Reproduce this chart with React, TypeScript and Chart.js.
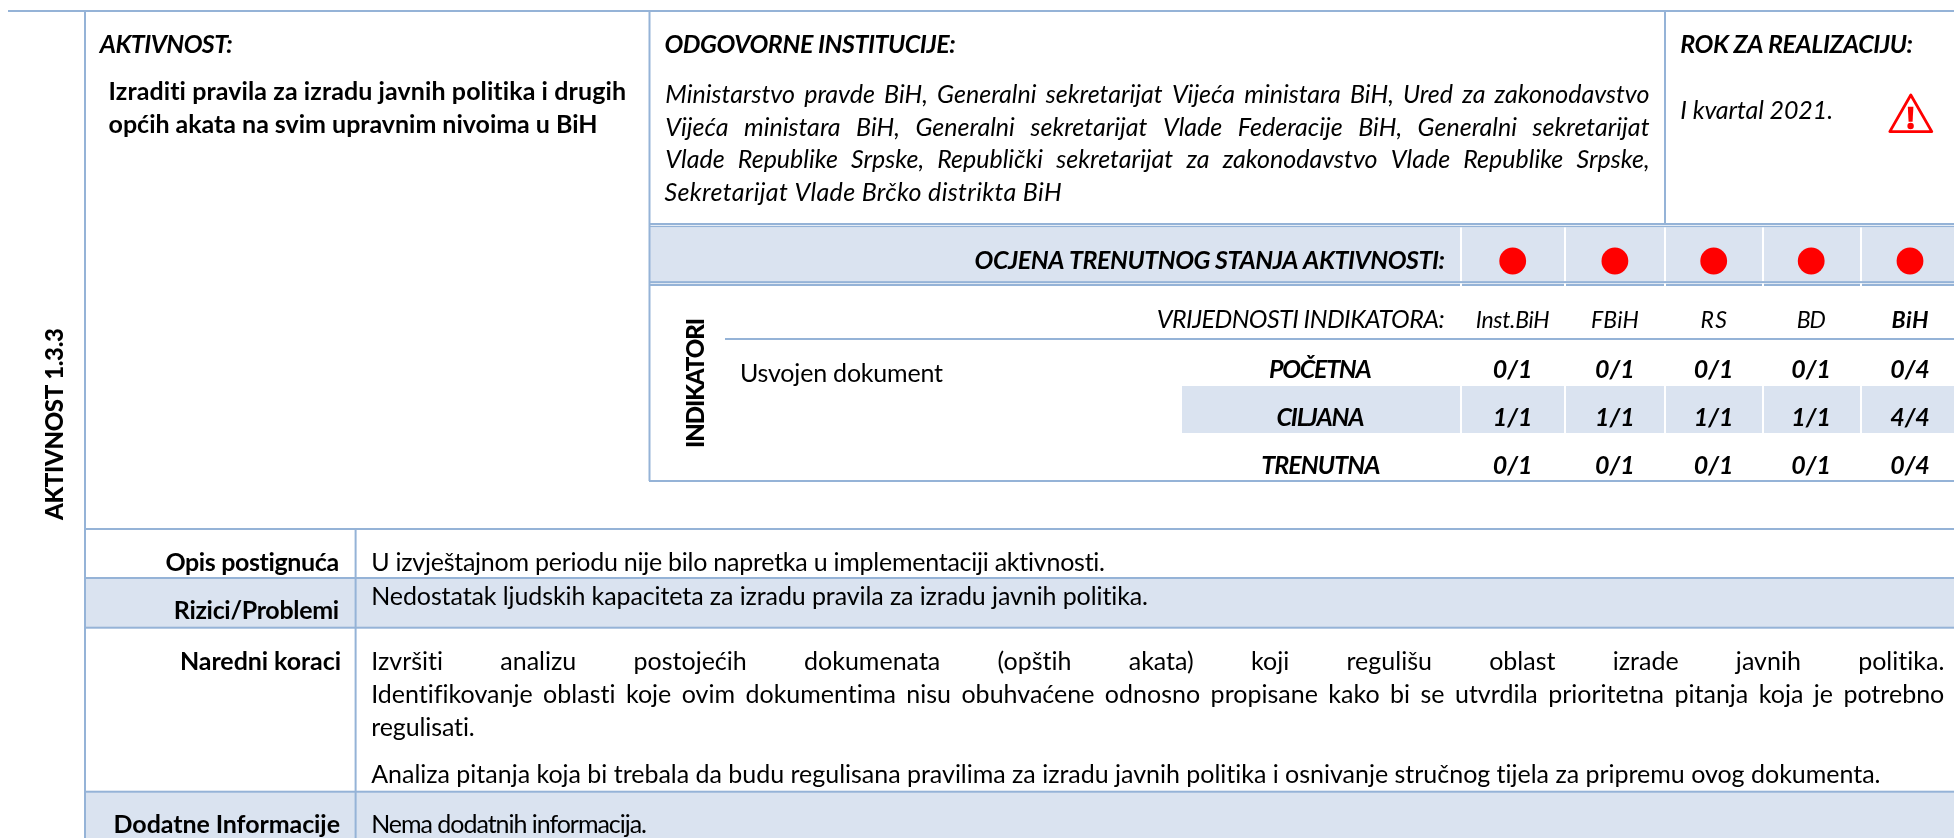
import React, { useEffect, useRef } from "react";
import { Chart, registerables, CategoryScale } from "chart.js";

// ---------- data ----------
const columns = ["Inst.BiH", "FBiH", "RS", "BD", "BiH"];
const statusRow = "OCJENA TRENUTNOG STANJA AKTIVNOSTI:";
const initialValues = ["0/1", "0/1", "0/1", "0/1", "0/4"];
const targetValues = ["1/1", "1/1", "1/1", "1/1", "4/4"];
const currentValues = ["0/1", "0/1", "0/1", "0/1", "0/4"];
const institutions = [
  "Ministarstvo pravde BiH, Generalni sekretarijat Vijeća ministara BiH, Ured za zakonodavstvo",
  "Vijeća ministara BiH, Generalni sekretarijat Vlade Federacije BiH, Generalni sekretarijat",
  "Vlade Republike Srpske, Republički sekretarijat za zakonodavstvo Vlade Republike Srpske,",
  "Sekretarijat Vlade Brčko distrikta BiH",
];
const activity = [
  "Izraditi pravila za izradu javnih politika i drugih",
  "općih akata na svim upravnim nivoima u BiH",
];
const nextSteps = [
  "Izvršiti analizu postojećih dokumenata (opštih akata) koji regulišu oblast izrade javnih politika.",
  "Identifikovanje oblasti koje ovim dokumentima nisu obuhvaćene odnosno propisane kako bi se utvrdila prioritetna pitanja koja je potrebno",
  "regulisati.",
  "Analiza pitanja koja bi trebala da budu regulisana pravilima za izradu javnih politika i osnivanje stručnog tijela za pripremu ovog dokumenta.",
];

// ---------- layout ----------
const W = 1954;
const H = 838;
const LINE = "#95B3D7";
const BAND = "#DAE3F0";
const columnCentres = [1512.7, 1614.9, 1713.7, 1811.2, 1910];
const headerWidths = [74, 48, 26.4, 29, 37];
const separators = [1461, 1565, 1665, 1763, 1861];
const F = "Lato";
const SIZE = 25;

class ColumnScale extends CategoryScale {
  static id = "column";
  static defaults = CategoryScale.defaults;
  getPixelForValue(value: any) {
    const i = typeof value === "number" ? value : (this as any).parse(value);
    return columnCentres[i];
  }
}

Chart.register(...registerables, ColumnScale as any);

function put(ctx: any, text: string, x0: number, x1: number, y: number, font: string, justify = false) {
  ctx.font = font;
  ctx.letterSpacing = "0.01px";
  ctx.wordSpacing = "0px";
  ctx.textAlign = "left";
  ctx.textBaseline = "alphabetic";
  ctx.fillStyle = "#000";
  const w = ctx.measureText(text).width;
  if (justify) {
    ctx.wordSpacing = (x1 - x0 - w) / (text.split(" ").length - 1) + "px";
  } else {
    ctx.letterSpacing = 0.01 + (x1 - x0 - w) / Math.max(text.length - 1, 1) + "px";
  }
  ctx.fillText(text, x0, y);
  ctx.letterSpacing = "0px";
  ctx.wordSpacing = "0px";
}

function centred(ctx: any, text: string, cx: number, y: number, font: string) {
  ctx.font = font;
  ctx.letterSpacing = "0px";
  ctx.wordSpacing = "0px";
  ctx.textAlign = "center";
  ctx.textBaseline = "alphabetic";
  ctx.fillStyle = "#000";
  ctx.fillText(text, cx, y);
}

function hLine(ctx: any, x0: number, x1: number, y: number, t = 2) {
  ctx.fillStyle = LINE;
  ctx.fillRect(x0, y - t / 2, x1 - x0, t);
}
function vLine(ctx: any, x: number, y0: number, y1: number, t = 2) {
  ctx.fillStyle = LINE;
  ctx.fillRect(x - t / 2, y0, t, y1 - y0);
}

const tablePlugin = {
  id: "table",
  beforeDatasetsDraw(chart: any) {
    const ctx = chart.ctx;
    const xs = chart.scales.x;
    ctx.save();
    ctx.fillStyle = "#fff";
    ctx.fillRect(0, 0, W, H);

    // bands
    ctx.fillStyle = BAND;
    ctx.fillRect(650, 227, W - 650, 54);
    ctx.fillRect(1182, 386, W - 1182, 47);
    ctx.fillRect(85, 578, W - 85, 50);
    ctx.fillRect(85, 792, W - 85, H - 792);

    // rules
    hLine(ctx, 8, W, 11);
    vLine(ctx, 85, 11, H);
    vLine(ctx, 649.5, 11, 481);
    vLine(ctx, 1665, 11, 224);
    hLine(ctx, 650, W, 224);
    hLine(ctx, 650, W, 226.4, 1.3);
    hLine(ctx, 650, W, 282.2, 2.2);
    hLine(ctx, 650, W, 285, 2);
    hLine(ctx, 725, W, 339);
    hLine(ctx, 649, W, 481);
    hLine(ctx, 85, W, 529);
    hLine(ctx, 85, W, 578);
    hLine(ctx, 85, W, 627.7);
    hLine(ctx, 85, W, 791.7);
    vLine(ctx, 355.6, 529, H);

    // white column separators
    ctx.fillStyle = "#fff";
    for (const s of separators) {
      ctx.fillRect(s - 1, 227.5, 2, 53.5);
      ctx.fillRect(s - 1, 283.4, 2, 2.8);
      ctx.fillRect(s - 1, 386, 2, 47);
    }

    const reg = `${SIZE}px ${F}`;
    const ita = `italic ${SIZE}px ${F}`;
    const bold = `bold ${SIZE}px ${F}`;
    const bi = `italic bold ${SIZE}px ${F}`;
    const heavy = `900 24px "Lato Black", ${F}`;
    const headIta = `italic 23px ${F}`;
    const headBi = `italic bold 23px ${F}`;

    // rotated headings
    ctx.save();
    ctx.translate(63, 520);
    ctx.rotate(-Math.PI / 2);
    put(ctx, "AKTIVNOST 1.3.3", 0, 192, 0, heavy);
    ctx.restore();
    ctx.save();
    ctx.translate(704, 448);
    ctx.rotate(-Math.PI / 2);
    put(ctx, "INDIKATORI", 0, 130, 0, heavy);
    ctx.restore();

    // top headings
    put(ctx, "AKTIVNOST:", 99.7, 232.7, 52.7, bi);
    put(ctx, activity[0], 108.6, 626, 100, bold);
    put(ctx, activity[1], 108.6, 597.6, 132.7, bold);
    put(ctx, "ODGOVORNE INSTITUCIJE:", 664.4, 955.7, 52.7, bi);
    put(ctx, institutions[0], 665.3, 1649.5, 103, ita, true);
    put(ctx, institutions[1], 665.3, 1649.5, 136, ita, true);
    put(ctx, institutions[2], 665.3, 1649.5, 168, ita, true);
    put(ctx, institutions[3], 664.5, 1061.7, 201, ita);
    put(ctx, "ROK ZA REALIZACIJU:", 1680.3, 1913, 52.7, bi);
    put(ctx, "I kvartal 2021.", 1680.3, 1833, 119, ita);

    // warning triangle
    ctx.strokeStyle = "#FF0000";
    ctx.lineWidth = 2.8;
    ctx.lineJoin = "round";
    ctx.beginPath();
    ctx.moveTo(1910.8, 95);
    ctx.lineTo(1931.8, 131.6);
    ctx.lineTo(1889.8, 131.6);
    ctx.closePath();
    ctx.stroke();
    ctx.fillStyle = "#FF0000";
    ctx.beginPath();
    ctx.moveTo(1907.8, 106.7);
    ctx.lineTo(1913.4, 106.7);
    ctx.lineTo(1912.6, 121.7);
    ctx.lineTo(1908.6, 121.7);
    ctx.closePath();
    ctx.fill();
    ctx.beginPath();
    ctx.arc(1910.6, 126, 3.2, 0, Math.PI * 2);
    ctx.fill();

    // indicator block
    put(ctx, statusRow, 974.6, 1445, 269.3, bi);
    put(ctx, "VRIJEDNOSTI INDIKATORA:", 1156.8, 1444.7, 328.3, ita);
    put(ctx, "Usvojen dokument", 740, 943, 381.7, reg);
    put(ctx, "POČETNA", 1269, 1371.7, 378.3, bi);
    put(ctx, "CILJANA", 1276.4, 1364.6, 425.7, bi);
    put(ctx, "TRENUTNA", 1261.2, 1380.5, 473.7, bi);
    columns.forEach((c, i) => {
      const cx = xs.getPixelForValue(i);
      const half = headerWidths[i] / 2;
      put(ctx, c, cx - half, cx + half, 328.3, i === columns.length - 1 ? headBi : headIta);
      centred(ctx, initialValues[i], cx, 378.3, bi);
      centred(ctx, targetValues[i], cx, 425.7, bi);
      centred(ctx, currentValues[i], cx, 473.7, bi);
    });

    // lower table
    put(ctx, "Opis postignuća", 165.4, 339.2, 570.7, bold);
    put(ctx, "Rizici/Problemi", 173.8, 339.2, 619.3, bold);
    put(ctx, "Naredni koraci", 180, 341, 670, bold);
    put(ctx, "Dodatne Informacije", 113.6, 340, 833.3, bold);
    put(ctx, "U izvještajnom periodu nije bilo napretka u implementaciji aktivnosti.", 371.2, 1105, 570.7, reg);
    put(ctx, "Nedostatak ljudskih kapaciteta za izradu pravila za izradu javnih politika.", 371.2, 1148, 605, reg);
    put(ctx, nextSteps[0], 371.2, 1944.3, 670, reg, true);
    put(ctx, nextSteps[1], 371.2, 1944.3, 702.7, reg, true);
    put(ctx, nextSteps[2], 371.2, 474.7, 735.7, reg);
    put(ctx, nextSteps[3], 371.2, 1880.5, 783.3, reg);
    put(ctx, "Nema dodatnih informacija.", 371.2, 647, 833.3, reg);
    ctx.restore();
  },
};

export default function App() {
  const ref = useRef<HTMLCanvasElement>(null);
  useEffect(() => {
    document.body.style.margin = "0";
    document.documentElement.style.overflow = "hidden";
    const chart = new Chart(ref.current as any, {
      type: "scatter",
      data: {
        datasets: [
          {
            label: statusRow,
            data: columns.map((c) => ({ x: c, y: statusRow })) as any,
            backgroundColor: "#FF0000",
            borderWidth: 0,
            pointRadius: 13.4,
            pointHoverRadius: 13.4,
            clip: false as any,
          },
        ],
      },
      options: {
        animation: false,
        responsive: false,
        events: [],
        layout: { padding: { left: 0, right: 0, top: 241, bottom: 557 } },
        plugins: { legend: { display: false }, tooltip: { enabled: false } },
        scales: {
          x: { type: "column" as any, labels: columns, display: false } as any,
          y: { type: "category", labels: [statusRow], offset: true, display: false } as any,
        },
      },
      plugins: [tablePlugin as any],
    });
    return () => chart.destroy();
  }, []);
  return <canvas ref={ref} width={W} height={H} style={{ display: "block" }} />;
}
